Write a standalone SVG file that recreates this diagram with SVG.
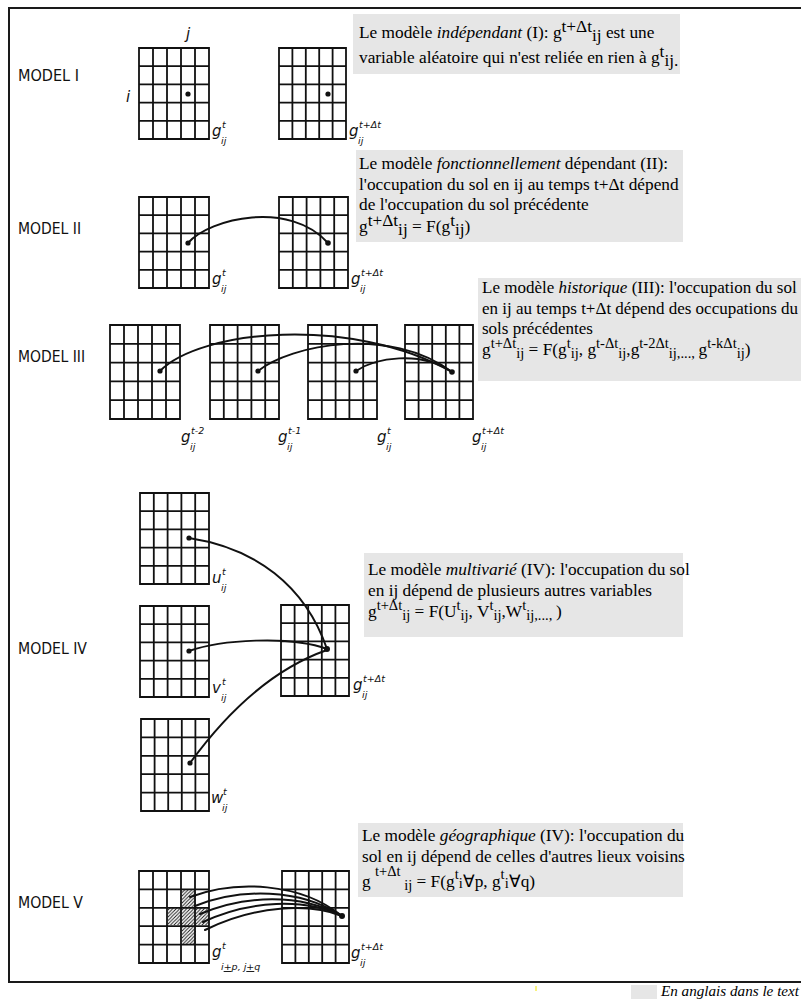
<svg xmlns="http://www.w3.org/2000/svg" xmlns:xlink="http://www.w3.org/1999/xlink" width="801" height="999" viewBox="0 0 801 999">
<style>
.frame{fill:none;stroke:#1a1a1a;stroke-width:2}
.box{fill:#e6e6e6}
.t{font-family:"Liberation Serif","Times New Roman",serif;font-size:17.3px;fill:#000}
.it{font-style:italic}
.s{font-size:14.5px}
.mdl{font-family:"DejaVu Sans Condensed","DejaVu Sans",sans-serif;font-stretch:condensed;font-size:16px;fill:#111}
.lab{font-family:"DejaVu Sans","Liberation Sans",sans-serif;font-style:italic;font-size:15px;fill:#111}
.sc{font-family:"DejaVu Sans","Liberation Sans",sans-serif;font-style:italic;font-size:9.5px;fill:#111}
.link{fill:none;stroke:#111;stroke-width:2;stroke-linecap:round}
.dot{fill:#111}
</style>
<defs>
<symbol id="grid" viewBox="0 0 70 91" preserveAspectRatio="none" overflow="visible">
<path d="M0,0H70V91H0Z M14,0V91 M28,0V91 M42,0V91 M56,0V91 M0,18.2H70 M0,36.4H70 M0,54.6H70 M0,72.8H70" fill="none" stroke="#111" stroke-width="1.8" vector-effect="non-scaling-stroke"/>
</symbol>
<pattern id="hatch" patternUnits="userSpaceOnUse" width="3.5" height="3.5">
<path d="M-1,4.5 L4.5,-1 M-1,1 L1,-1 M2.5,4.5 L4.5,2.5" stroke="#111" stroke-width="0.9"/>
</pattern>
</defs>

<!-- frame -->
<path class="frame" d="M801,8 H9 V982 H801"/>

<!-- MODEL I -->
<g id="model1">
<text class="mdl" x="18" y="81" textLength="61" lengthAdjust="spacingAndGlyphs">MODEL I</text>
<text class="lab" x="186" y="39">j</text>
<text class="lab" x="126" y="102">i</text>
<use xlink:href="#grid" href="#grid" x="139" y="48" width="70" height="91"/>
<circle class="dot" cx="188" cy="94" r="2.6"/>
<text class="lab" x="212" y="136">g</text><text class="sc" x="222" y="128">t</text><text class="sc" x="221" y="144">ij</text>
<use xlink:href="#grid" href="#grid" x="279" y="48" width="67" height="91"/>
<circle class="dot" cx="328" cy="94" r="2.6"/>
<text class="lab" x="349" y="136">g</text><text class="sc" x="359" y="128">t+Δt</text><text class="sc" x="358" y="144">ij</text>
</g>
<g id="desc1">
<rect class="box" x="353" y="14" width="327" height="60"/>
<text class="t" x="359" y="38">Le modèle <tspan class="it">indépendant</tspan> (I): g<tspan dy="-6">t+Δt</tspan><tspan dy="9">ij</tspan><tspan dy="-3"> est une</tspan></text>
<text class="t" x="359" y="63">variable aléatoire qui n'est reliée en rien à g<tspan dy="-6">t</tspan><tspan dy="9">ij.</tspan></text>
</g>

<!-- MODEL II -->
<g id="model2">
<text class="mdl" x="18" y="234" textLength="63" lengthAdjust="spacingAndGlyphs">MODEL II</text>
<use xlink:href="#grid" href="#grid" x="139" y="197" width="70" height="91"/>
<use xlink:href="#grid" href="#grid" x="279" y="197" width="69" height="91"/>
<text class="lab" x="212" y="284">g</text><text class="sc" x="222" y="276">t</text><text class="sc" x="221" y="292">ij</text>
<text class="lab" x="351" y="284">g</text><text class="sc" x="361" y="276">t+Δt</text><text class="sc" x="360" y="292">ij</text>
</g>
<g id="desc2">
<rect class="box" x="356" y="150" width="327" height="92"/>
<text class="t" x="359" y="169">Le modèle <tspan class="it">fonctionnellement</tspan> dépendant (II):</text>
<text class="t" x="359" y="190">l'occupation du sol en ij au temps t+Δt dépend</text>
<text class="t" x="359" y="210">de l'occupation du sol précédente</text>
<text class="t" x="359" y="232">g<tspan dy="-6">t+Δt</tspan><tspan dy="9">ij</tspan><tspan dy="-3"> = F(g</tspan><tspan dy="-6">t</tspan><tspan dy="9">ij</tspan><tspan dy="-3">)</tspan></text>
</g>

<!-- MODEL III -->
<g id="model3">
<text class="mdl" x="18" y="362" textLength="67" lengthAdjust="spacingAndGlyphs">MODEL III</text>
<use xlink:href="#grid" href="#grid" x="110" y="325" width="70" height="94"/>
<use xlink:href="#grid" href="#grid" x="210" y="325" width="69" height="94"/>
<use xlink:href="#grid" href="#grid" x="308" y="325" width="69" height="94"/>
<use xlink:href="#grid" href="#grid" x="405" y="325" width="68" height="94"/>
<text class="lab" x="181" y="442">g</text><text class="sc" x="191" y="434">t-2</text><text class="sc" x="190" y="450">ij</text>
<text class="lab" x="278" y="442">g</text><text class="sc" x="288" y="434">t-1</text><text class="sc" x="287" y="450">ij</text>
<text class="lab" x="377" y="442">g</text><text class="sc" x="387" y="434">t</text><text class="sc" x="386" y="450">ij</text>
<text class="lab" x="472" y="442">g</text><text class="sc" x="482" y="434">t+Δt</text><text class="sc" x="481" y="450">ij</text>
</g>
<g id="desc3">
<rect class="box" x="478" y="278" width="323" height="103"/>
<text class="t" x="482" y="293" style="font-size:17px">Le modèle <tspan class="it">historique</tspan> (III): l'occupation du sol</text>
<text class="t" x="482" y="314" style="font-size:17px">en ij au temps t+Δt dépend des occupations du</text>
<text class="t" x="482" y="334" style="font-size:17px">sols précédentes</text>
<text class="t" x="482" y="355">g<tspan class="s" dy="-7">t+Δt</tspan><tspan class="s" dy="10">ij</tspan><tspan dy="-3"> = F(g</tspan><tspan class="s" dy="-7">t</tspan><tspan class="s" dy="10">ij</tspan><tspan dy="-3">, g</tspan><tspan class="s" dy="-7">t-Δt</tspan><tspan class="s" dy="10">ij</tspan><tspan dy="-3">,g</tspan><tspan class="s" dy="-7">t-2Δt</tspan><tspan class="s" dy="10">ij,..., </tspan><tspan dy="-3">g</tspan><tspan class="s" dy="-7">t-kΔt</tspan><tspan class="s" dy="10">ij</tspan><tspan dy="-3">)</tspan></text>
</g>

<!-- MODEL IV -->
<g id="model4">
<text class="mdl" x="18" y="654" textLength="69" lengthAdjust="spacingAndGlyphs">MODEL IV</text>
<use xlink:href="#grid" href="#grid" x="140" y="493" width="69" height="91"/>
<use xlink:href="#grid" href="#grid" x="140" y="606" width="69" height="91"/>
<use xlink:href="#grid" href="#grid" x="141" y="719" width="68" height="92"/>
<use xlink:href="#grid" href="#grid" x="281" y="605" width="68" height="91"/>
<text class="lab" x="212" y="583">u</text><text class="sc" x="222" y="575">t</text><text class="sc" x="221" y="591">ij</text>
<text class="lab" x="212" y="693">v</text><text class="sc" x="222" y="685">t</text><text class="sc" x="221" y="701">ij</text>
<text class="lab" x="211" y="803">w</text><text class="sc" x="223" y="795">t</text><text class="sc" x="222" y="811">ij</text>
<text class="lab" x="353" y="690">g</text><text class="sc" x="363" y="682">t+Δt</text><text class="sc" x="362" y="698">ij</text>
</g>
<g id="desc4">
<rect class="box" x="364" y="553" width="319" height="84"/>
<text class="t" x="368" y="575">Le modèle <tspan class="it">multivarié</tspan> (IV): l'occupation du sol</text>
<text class="t" x="368" y="596">en ij dépend de plusieurs autres variables</text>
<text class="t" x="368" y="617">g<tspan class="s" dy="-7">t+Δt</tspan><tspan class="s" dy="10">ij</tspan><tspan dy="-3"> = F(U</tspan><tspan class="s" dy="-7">t</tspan><tspan class="s" dy="10">ij</tspan><tspan dy="-3">, V</tspan><tspan class="s" dy="-7">t</tspan><tspan class="s" dy="10">ij</tspan><tspan dy="-3">,W</tspan><tspan class="s" dy="-7">t</tspan><tspan class="s" dy="10">ij,..., </tspan><tspan dy="-3">)</tspan></text>
</g>

<!-- MODEL V -->
<g id="model5">
<text class="mdl" x="18" y="908" textLength="65" lengthAdjust="spacingAndGlyphs">MODEL V</text>
<rect x="182" y="889" width="14" height="18" fill="url(#hatch)"/>
<rect x="168" y="907" width="41" height="18" fill="url(#hatch)"/>
<rect x="182" y="925" width="14" height="19" fill="url(#hatch)"/>
<use xlink:href="#grid" href="#grid" x="139" y="871" width="70" height="92"/>
<use xlink:href="#grid" href="#grid" x="282" y="871" width="67" height="92"/>
<text class="lab" x="212" y="957">g</text><text class="sc" x="222" y="949">t</text><text class="sc" x="221" y="970">i<tspan text-decoration="underline">+</tspan>p, j<tspan text-decoration="underline">+</tspan>q</text>
<text class="lab" x="351" y="958">g</text><text class="sc" x="361" y="950">t+Δt</text><text class="sc" x="360" y="966">ij</text>
</g>
<g id="desc5">
<rect class="box" x="358" y="823" width="325" height="74"/>
<text class="t" x="362" y="841">Le modèle <tspan class="it">géographique</tspan> (IV): l'occupation du</text>
<text class="t" x="362" y="862">sol en ij dépend de celles d'autres lieux voisins</text>
<text class="t" x="362" y="887">g <tspan class="s" dy="-11">t+Δt</tspan><tspan class="s" dy="14"> ij</tspan><tspan dy="-3"> = F(g</tspan><tspan class="s" dy="-8">t</tspan><tspan class="s" dy="9">i</tspan><tspan dy="-1">∀p, g</tspan><tspan class="s" dy="-8">t</tspan><tspan class="s" dy="9">i</tspan><tspan dy="-1">∀q)</tspan></text>
</g>

<!-- connectors -->
<g id="connectors">
<path class="link" d="M188,243 C210,218 290,200 328,243"/>
<path class="link" d="M160,371 C200,330 350,315 452,372"/>
<path class="link" d="M258,371 C290,345 390,325 452,372"/>
<path class="link" d="M356,371 C375,358 420,350 452,372"/>
<path class="link" d="M189,538 C255,548 305,585 327,649"/>
<path class="link" d="M189,651 C220,640 290,635 327,649"/>
<path class="link" d="M190,763 C225,715 270,670 327,650"/>
<path class="link" d="M190,897 C235,880 300,882 342,916"/>
<path class="link" d="M195,906 C240,888 300,888 342,916"/>
<path class="link" d="M200,914 C245,895 300,893 342,916"/>
<path class="link" d="M203,922 C250,900 305,898 342,916"/>
<path class="link" d="M205,930 C255,905 310,903 342,916"/>
<circle class="dot" cx="188" cy="243" r="2.6"/>
<circle class="dot" cx="328" cy="243" r="2.8"/>
<circle class="dot" cx="160" cy="371" r="2.6"/>
<circle class="dot" cx="258" cy="371" r="2.6"/>
<circle class="dot" cx="356" cy="371" r="2.6"/>
<circle class="dot" cx="452" cy="372" r="2.8"/>
<circle class="dot" cx="189" cy="538" r="2.6"/>
<circle class="dot" cx="189" cy="651" r="2.6"/>
<circle class="dot" cx="190" cy="763" r="2.6"/>
<circle class="dot" cx="327" cy="649" r="3"/>
<circle class="dot" cx="342" cy="916" r="3"/>
</g>

<!-- footer -->
<line x1="536" y1="986" x2="536" y2="991" stroke="#f2e600" stroke-width="1"/>
<rect class="box" x="631" y="985" width="26" height="14"/>
<text class="t it" x="661" y="996" style="font-size:15.5px" textLength="138" lengthAdjust="spacingAndGlyphs">En anglais dans le text</text>
</svg>
